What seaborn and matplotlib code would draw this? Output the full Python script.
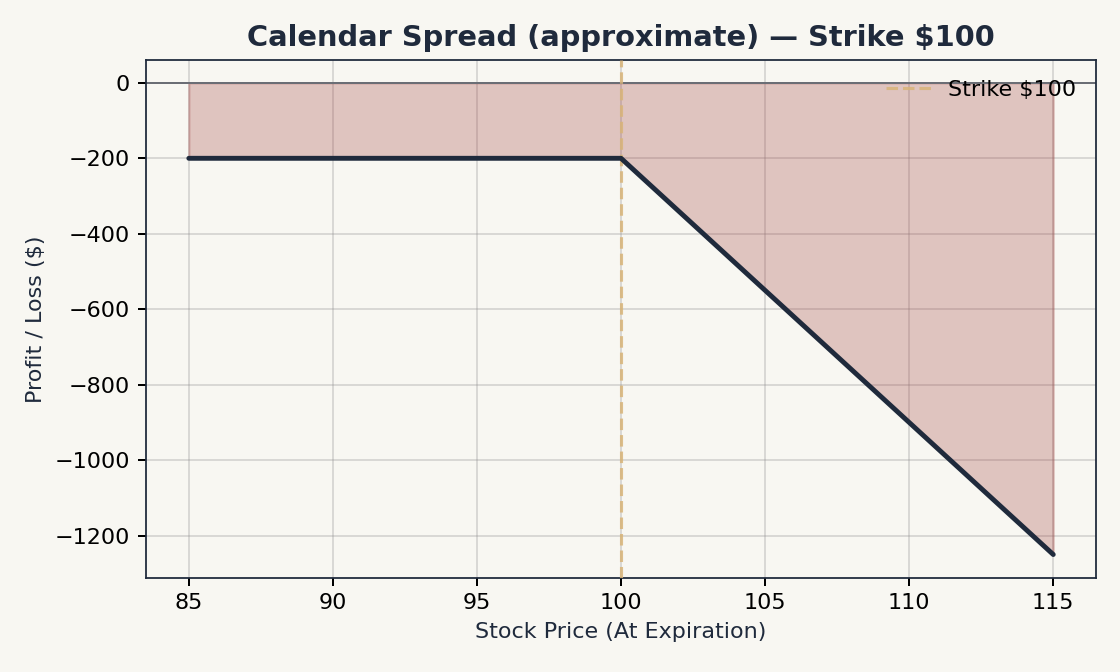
import numpy as np
import pandas as pd
import seaborn as sns
import matplotlib.pyplot as plt

# Datos
precios = [85, 90, 95, 100, 105, 110, 115]
pnl = [-200, -200, -200, -200, -550, -900, -1250]
strike = 100

df = pd.DataFrame({"precio": precios, "pnl": pnl})

bg = "#f8f7f2"
navy = "#1f2a3c"

sns.set_style("whitegrid")
plt.rcParams["font.family"] = ["DejaVu Sans"]

fig, ax = plt.subplots(figsize=(7, 4.2), dpi=160)
fig.patch.set_facecolor(bg)
ax.set_facecolor(bg)

ax.fill_between(df["precio"], df["pnl"], 0, color="#a0403c", alpha=0.28, zorder=1)
ax.axhline(0, color="#6b6e75", linewidth=0.9, zorder=2)
sns.lineplot(data=df, x="precio", y="pnl", color=navy, linewidth=2.2, ax=ax, zorder=4)
ax.axvline(strike, color="#d8b479", linestyle="--", linewidth=1.4, alpha=0.85,
           label=f"Strike ${strike}", zorder=3)

ax.set_xticks([85, 90, 95, 100, 105, 110, 115])
ax.set_yticks([0, -200, -400, -600, -800, -1000, -1200])
ax.set_ylim(-1312, 61)
ax.set_xlim(83.5, 116.5)
ax.grid(True, color="#888888", alpha=0.3, linewidth=0.8)
ax.tick_params(axis="both", labelsize=10, colors="black", length=3.5, width=0.9,
               left=True, bottom=True)
for s in ax.spines.values():
    s.set_color(navy)
    s.set_linewidth(0.8)

ax.set_title("Calendar Spread (approximate) — Strike $100", fontsize=13,
             fontweight="bold", color=navy, pad=6)
ax.set_xlabel("Stock Price (At Expiration)", fontsize=10, color=navy)
ax.set_ylabel("Profit / Loss ($)", fontsize=10, color=navy)
leg = ax.legend(loc="upper right", frameon=False, fontsize=10)
for t in leg.get_texts():
    t.set_color("black")

plt.subplots_adjust(left=0.13, right=0.979, top=0.911, bottom=0.14)
plt.savefig("out.png", dpi=160, facecolor=bg)
